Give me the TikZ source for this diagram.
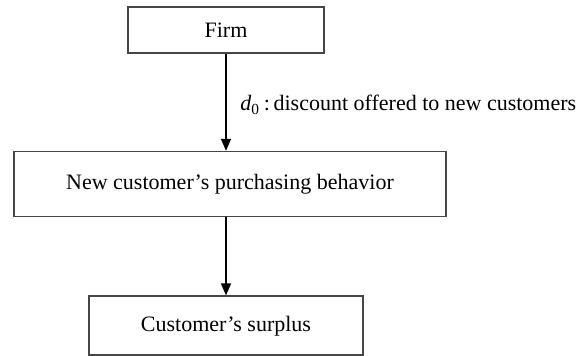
\documentclass[tikz,border=0pt]{standalone}
\usepackage{amsmath}
\usepackage{fontspec}
\setmainfont{Liberation Serif}
\usepackage{tikz}
\usetikzlibrary{arrows.meta,positioning}
\definecolor{edgegray}{RGB}{70,70,70}
\tikzset{
  box/.style={draw=edgegray,line width=0.8pt,fill=white,minimum height=23pt,align=center,inner sep=2pt,font=\fontsize{11}{13}\selectfont},
  flow/.style={-{Triangle[length=6pt,width=5pt]},draw=black,line width=0.7pt}
}

\begin{document}
\begin{tikzpicture}[node distance=48.5pt]
\useasboundingbox (-113pt,15pt) rectangle (180.5pt,-162.5pt);
\node[box,minimum width=98pt] (firm) {Firm};
\node[box,below=of firm,minimum width=216pt,minimum height=32.5pt,xshift=2pt] (buy) {New customer's purchasing behavior};
\node[box,below=39pt of buy.south,anchor=north,xshift=-2pt,minimum width=137pt,minimum height=29.5pt] (surplus) {Customer's surplus};
\draw[flow] (firm.south)--(firm.south|-buy.north) coordinate (top);
\draw[flow] (top|-buy.south)--(surplus.north);
\node[right=7pt of firm.south,yshift=-25.5pt,inner sep=0pt,font=\fontsize{11}{13}\selectfont] (lbl) {\textit{d}$_{\text{0}}$\,:\,discount offered to new customers};
\end{tikzpicture}
\end{document}
